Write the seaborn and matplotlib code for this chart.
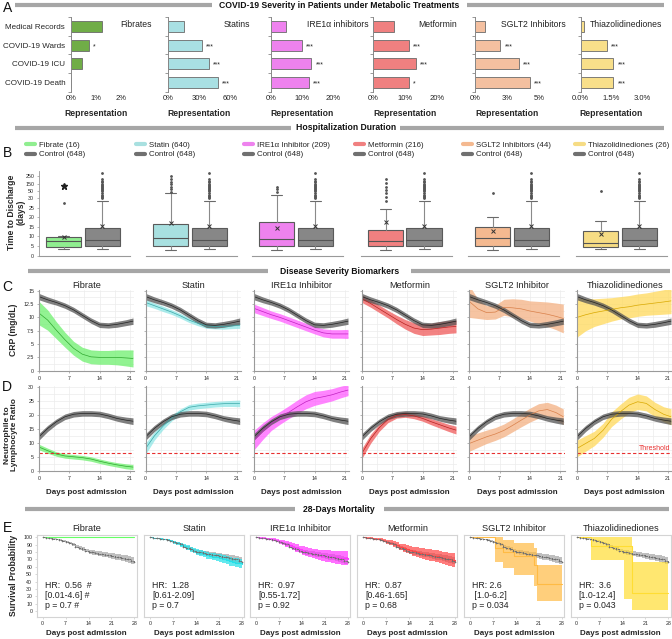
import numpy as np
import matplotlib
matplotlib.use('Agg')
import matplotlib.pyplot as plt
from matplotlib.lines import Line2D
import seaborn as sns
import pandas as pd

# ---------------- DATA ----------------
CATEGORIES = ['Medical Records', 'COVID-19 Wards', 'COVID-19 ICU', 'COVID-19 Death']
A_DRUGS = ['Fibrates', 'Statins', 'IRE1α inhibitors', 'Metformin', 'SGLT2 Inhibitors', 'Thiazolidinediones']
A_FIB = [1.24, 0.74, 0.44, 0.0]
A_STATIN = [15.8, 33.0, 39.4, 48.0]
A_IRE = [4.9, 10.0, 13.1, 12.3]
A_MET = [6.75, 11.25, 13.4, 11.25]
A_SGLT2 = [0.8, 1.98, 3.4, 4.3]
A_TZD = [0.18, 1.27, 1.59, 1.59]
A_STARS = [['', '*', '', ''], ['', '***', '***', '***'], ['', '***', '***', '***'],
           ['', '***', '***', '*'], ['', '***', '***', '***'], ['', '***', '***', '***']]
A_TICKS = [[0, 1, 2], [0, 30, 60], [0, 10, 20], [0, 10, 20], [0, 2.5, 5], [0, 1.5, 3]]
A_TICKLABELS = [['0%', '1%', '2%'], ['0%', '30%', '60%'], ['0%', '10%', '20%'],
                ['0%', '10%', '20%'], ['0%', '3%', '5%'], ['0.0%', '1.5%', '3.0%']]

B_GROUPS = ['Fibrate (16)', 'Statin (640)', 'IRE1α Inhibitor (209)', 'Metformin (216)',
            'SGLT2 Inhibitors (44)', 'Thiazolidinediones (26)']
B_CONTROL_LABEL = 'Control (648)'
B_Q1 = [4.5, 5.2, 5.0, 5.0, 5.0, 4.5]
B_MED = [7.5, 9.4, 8.5, 7.5, 9.0, 6.5]
B_Q3 = [9.5, 16.5, 17.5, 13.5, 14.8, 13.0]
B_WLO = [3.5, 3.0, 3.0, 3.0, 3.0, 3.5]
B_WHI = [10.4, 45.0, 40.0, 24.2, 20.0, 18.2]
B_MEAN = [9.9, 17.2, 14.3, 17.4, 12.9, 11.3]
B_FLIERS = [[27.6], [48, 74, 111, 146, 174, 206, 250], [48, 75, 110],
            [28.5, 34, 43, 64, 111, 165, 206], [45], [54]]
B_FIB_EXTREME = [115]
CTRL_Q1, CTRL_MED, CTRL_Q3, CTRL_WLO, CTRL_WHI, CTRL_MEAN = 5.0, 8.2, 14.3, 3.3, 28.3, 15.6
CTRL_FLIERS = [30, 32, 35, 39, 45, 55, 64, 80, 93, 110, 121, 140, 153, 170, 182, 206, 279]
B_YTICKS = [0, 5, 10, 15, 20, 25, 30, 50, 150, 250]

CD_TITLES = ['Fibrate', 'Statin', 'IRE1α Inhibitor', 'Metformin', 'SGLT2 Inhibitor', 'Thiazolidinediones']
DAYS_CD = [0, 2, 4, 6, 8, 10, 12, 14, 16, 18, 20, 21.7]
CRP_CTRL = [13.9, 13.3, 12.8, 12.2, 11.4, 10.4, 9.4, 8.6, 8.5, 8.7, 9.0, 9.3]
CRP_CTRL_HALF = [0.6, 0.55, 0.5, 0.5, 0.5, 0.5, 0.5, 0.5, 0.5, 0.55, 0.55, 0.6]
CRP_FIB = [10.8, 9.5, 7.6, 5.8, 4.2, 3.1, 2.6, 2.5, 2.5, 2.5, 2.4, 2.3]
CRP_FIB_HALF = [2.2, 1.9, 1.6, 1.4, 1.3, 1.3, 1.3, 1.3, 1.3, 1.4, 1.5, 1.6]
CRP_STATIN = [12.8, 12.2, 11.6, 11.0, 10.3, 9.5, 8.9, 8.4, 8.3, 8.3, 8.4, 8.5]
CRP_STATIN_HALF = [0.6, 0.5, 0.5, 0.45, 0.45, 0.45, 0.45, 0.45, 0.45, 0.5, 0.5, 0.55]
CRP_IRE = [11.7, 11.1, 10.5, 10.0, 9.4, 8.8, 8.2, 7.6, 7.1, 6.9, 6.9, 6.9]
CRP_IRE_HALF = [0.8, 0.75, 0.7, 0.7, 0.7, 0.7, 0.7, 0.7, 0.75, 0.8, 0.8, 0.85]
CRP_MET = [13.5, 12.6, 11.6, 10.6, 9.6, 8.7, 8.0, 7.7, 7.8, 8.0, 8.2, 8.3]
CRP_MET_HALF = [0.7, 0.7, 0.7, 0.7, 0.8, 0.9, 1.0, 1.1, 1.1, 1.2, 1.2, 1.2]
CRP_SGLT2 = [13.0, 11.6, 10.9, 11.0, 11.9, 11.8, 11.6, 11.2, 10.9, 10.6, 10.2, 9.8]
CRP_SGLT2_HALF = [3.0, 1.8, 1.3, 1.3, 1.5, 1.7, 1.8, 1.9, 2.1, 2.3, 2.5, 2.7]
CRP_TZD = [10.0, 10.5, 10.9, 11.2, 11.5, 11.8, 12.0, 12.3, 12.5, 12.7, 12.9, 13.1]
CRP_TZD_HALF = [3.7, 3.0, 2.6, 2.4, 2.2, 2.1, 2.1, 2.1, 2.1, 2.2, 2.3, 2.4]

NLR_CTRL = [12.2, 15.2, 17.6, 19.4, 20.3, 20.6, 20.6, 20.4, 19.7, 18.8, 18.2, 17.8]
NLR_CTRL_HALF = [1.2, 1.1, 1.0, 1.0, 1.0, 1.0, 1.0, 1.0, 1.0, 1.0, 1.1, 1.2]
NLR_FIB = [8.5, 7.2, 6.0, 5.3, 5.0, 4.7, 4.2, 3.4, 2.7, 2.1, 1.6, 1.3]
NLR_FIB_HALF = [1.0, 0.9, 0.8, 0.8, 0.8, 0.8, 0.8, 0.8, 0.8, 0.8, 0.9, 0.9]
NLR_STATIN = [8.0, 12.5, 16.0, 19.0, 21.2, 22.8, 23.3, 23.6, 23.9, 24.1, 24.2, 24.2]
NLR_STATIN_HALF = [2.0, 1.5, 1.2, 1.1, 1.0, 1.0, 1.0, 1.0, 1.0, 1.0, 1.1, 1.2]
NLR_IRE = [11.0, 14.2, 17.0, 19.0, 21.0, 23.0, 24.8, 26.0, 26.6, 27.3, 28.3, 29.0]
NLR_IRE_HALF = [3.5, 3.0, 2.5, 2.3, 2.3, 2.4, 2.5, 2.5, 2.3, 2.2, 2.1, 2.0]
NLR_MET = [6.3, 11.5, 15.5, 18.4, 19.9, 20.2, 19.7, 18.8, 17.6, 16.5, 15.4, 14.6]
NLR_MET_HALF = [1.8, 1.6, 1.3, 1.1, 1.0, 1.0, 1.0, 1.0, 1.1, 1.2, 1.3, 1.4]
NLR_SGLT2 = [9.8, 11.0, 12.2, 13.2, 14.5, 16.3, 18.2, 20.0, 21.5, 22.0, 20.9, 19.4]
NLR_SGLT2_HALF = [2.8, 2.6, 2.4, 2.3, 2.3, 2.3, 2.4, 2.5, 2.6, 2.6, 2.7, 2.8]
NLR_TZD = [8.0, 9.8, 11.6, 14.5, 18.5, 21.2, 23.6, 24.8, 24.2, 22.0, 20.3, 19.4]
NLR_TZD_HALF = [3.0, 2.8, 2.6, 2.5, 2.6, 2.7, 2.8, 2.8, 2.7, 2.6, 2.7, 2.9]
NLR_THRESHOLD = 6.3

KM_DAYS = list(range(29))
KM_CTRL = [100, 99.3, 98.6, 97.9, 97.0, 96.0, 95.0, 93.5, 92.0, 90.5, 87.5, 85.5, 84.0, 82.0, 80.5,
           79.5, 78.5, 77.8, 77.0, 76.2, 75.5, 74.6, 73.8, 73.0, 72.0, 71.0, 70.0, 68.5, 67.0]
KM_CTRL_HALF = [0, 0.3, 0.5, 0.7, 0.9, 1.1, 1.3, 1.5, 1.7, 1.9, 2.1, 2.3, 2.5, 2.6, 2.8,
                2.9, 3.1, 3.2, 3.4, 3.6, 3.8, 4.0, 4.2, 4.4, 4.6, 4.8, 5.0, 5.3, 5.6]
KM_FIB_DAYS = [0, 28]
KM_FIB = [100, 100]
KM_STATIN = [100, 99.4, 98.8, 98.0, 97.0, 96.0, 94.8, 93.3, 91.8, 90.0, 88.0, 86.0, 84.0, 82.0, 80.0,
             78.5, 77.0, 75.5, 74.5, 73.5, 72.8, 72.0, 70.5, 69.0, 67.5, 66.5, 65.5, 64.5, 63.5]
KM_STATIN_HALF = [0, 0.3, 0.6, 0.9, 1.2, 1.5, 1.8, 2.1, 2.4, 2.7, 3.0, 3.2, 3.4, 3.6, 3.8,
                  4.0, 4.2, 4.4, 4.6, 4.8, 5.0, 5.2, 5.4, 5.6, 5.8, 6.0, 6.2, 6.4, 6.6]
KM_IRE = [100, 99.5, 99.0, 98.3, 97.5, 96.5, 95.5, 94.0, 92.5, 91.0, 89.5, 87.5, 85.5, 83.5, 82.0,
          80.5, 79.0, 78.0, 77.0, 76.0, 75.0, 74.5, 74.0, 73.5, 73.0, 72.5, 72.0, 71.5, 71.0]
KM_IRE_HALF = [0, 0.4, 0.8, 1.2, 1.6, 2.0, 2.4, 2.8, 3.2, 3.6, 4.0, 4.4, 4.8, 5.2, 5.6,
               6.0, 6.3, 6.6, 6.9, 7.2, 7.5, 7.8, 8.1, 8.4, 8.7, 9.0, 9.3, 9.6, 9.9]
KM_MET = [100, 99.5, 99.0, 98.3, 97.5, 96.5, 95.5, 94.0, 92.5, 91.0, 89.0, 87.0, 85.5, 84.0, 82.5,
          81.0, 80.0, 79.0, 78.0, 77.0, 76.0, 75.0, 74.0, 73.0, 72.0, 71.0, 70.0, 69.0, 68.0]
KM_MET_HALF = [0, 0.4, 0.8, 1.2, 1.6, 2.0, 2.4, 2.8, 3.2, 3.6, 4.0, 4.4, 4.8, 5.2, 5.6,
               6.0, 6.3, 6.6, 6.9, 7.2, 7.5, 7.8, 8.1, 8.4, 8.7, 9.0, 9.3, 9.6, 9.9]
KM_SGLT2_DAYS = [0, 7.5, 10, 13.5, 19.5, 20.5, 28]
KM_SGLT2 = [100, 86, 80, 75, 62, 37, 37]
KM_SGLT2_LO = [100, 67, 58, 49, 34, 13, 13]
KM_SGLT2_HI = [100, 100, 96, 92, 85, 62, 62]
KM_TZD_DAYS = [0, 4.5, 14.5, 17, 28]
KM_TZD = [100, 88, 88, 24, 24]
KM_TZD_LO = [100, 69, 16, 2, 2]
KM_TZD_HI = [100, 100, 100, 67, 67]
HR_TEXT = ['HR:  0.56  #\n[0.01-4.6] #\np = 0.7 #', 'HR:  1.28\n[0.61-2.09]\np = 0.7',
           'HR:  0.97\n[0.55-1.72]\np = 0.92', 'HR:  0.87\n[0.46-1.65]\np = 0.68',
           'HR: 2.6\n [1.0-6.2]\np = 0.034', 'HR:  3.6\n[1.0-12.4]\np = 0.043']

BAR_COLORS = ['#70ad47', '#a9e0e3', '#ee82ee', '#f08080', '#f4c0a0', '#f8df8a']
BOX_COLORS = ['#90ee90', '#a8e0e0', '#ee82ee', '#f08080', '#f4b990', '#f6dc84']
BAND_COLORS = ['#6ef06e', '#8fe6e6', '#ff5cff', '#f05a5a', '#f4b183', '#ffd95a']
LINE_COLORS = ['#2fa82f', '#3aa8a8', '#c020c0', '#b82020', '#d9804a', '#d9a800']
KM_COLORS = ['#66ff66', '#22e0e8', '#ff33ff', '#ff4444', '#ffbb44', '#ffdd33']

# ---------------- FIGURE ----------------
sns.set_theme(style='white')
plt.rcParams['font.family'] = ['Liberation Sans', 'DejaVu Sans']
W, H = 672, 639
fig = plt.figure(figsize=(W / 100, H / 100), dpi=100)


def px_axes(x, y, w, h):
    return fig.add_axes([x / W, 1 - (y + h) / H, w / W, h / H])


def ftext(x, y, s, **kw):
    return fig.text(x / W, 1 - y / H, s, **kw)


def hbar(x1, x2, y):
    fig.add_artist(Line2D([x1 / W, x2 / W], [1 - y / H, 1 - y / H], color='#a6a6a6', lw=3,
                          transform=fig.transFigure, solid_capstyle='butt'))


def header(text, xt, y, l1, l2):
    ftext(xt, y, text, fontsize=6.2, fontweight='bold', ha='center', va='center', color='#111111')
    hbar(l1[0], l1[1], y)
    hbar(l2[0], l2[1], y)


header('COVID-19 Severity in Patients under Metabolic Treatments', 339, 5, (15, 212), (467, 664))
header('Hospitalization Duration', 346, 128, (15, 291), (400, 664))
header('Disease Severity Biomarkers', 340, 271, (28, 268), (411, 670))
header('28-Days Mortality', 339, 509, (25, 295), (384, 669))

for lab, (x, y) in zip('ABCDE', [(8, 8), (7, 153), (7, 287), (7, 387), (7, 528)]):
    ftext(x, y, lab, fontsize=10, ha='center', va='center', color='#111111')

# ---------------- PANEL A ----------------
A_VALUES = [A_FIB, A_STATIN, A_IRE, A_MET, A_SGLT2, A_TZD]
A_X0 = [70.7, 168, 270.7, 372.7, 475, 580.7]
A_WPX = [50, 62, 62, 64, 64, 61.6]
A_TITLE_RIGHT = [152, 250, 369, 457, 566, 662]
for k in range(6):
    ax = px_axes(A_X0[k], 17.2, A_WPX[k], 74.3)
    df = pd.DataFrame({'cat': CATEGORIES, 'val': A_VALUES[k]})
    sns.barplot(data=df, y='cat', x='val', orient='h', color=BAR_COLORS[k], saturation=1,
                edgecolor='#6a6a6a', linewidth=0.6, width=0.59, ax=ax)
    ax.set_ylim(3.5, -0.5)
    ax.set_xlim(0, A_TICKS[k][-1])
    ax.set_xticks(A_TICKS[k])
    ax.set_xticklabels(A_TICKLABELS[k], fontsize=5.5)
    ax.set_yticks(range(4))
    ax.set_yticklabels(CATEGORIES if k == 0 else [], fontsize=5.8)
    ax.set_yticks([-0.5, 0.5, 1.5, 2.5, 3.5], minor=True)
    ax.tick_params(axis='y', which='major', length=0, pad=4)
    ax.tick_params(axis='y', which='minor', length=2.5, width=0.6, color='#888888', left=True)
    ax.tick_params(axis='x', length=0, pad=2.5)
    for s in ['top', 'right', 'bottom']:
        ax.spines[s].set_visible(False)
    ax.spines['left'].set_color('#888888')
    ax.spines['left'].set_linewidth(0.7)
    ax.set_ylabel('')
    ax.set_xlabel('Representation', fontsize=6.2, fontweight='bold', labelpad=5)
    for i, s in enumerate(A_STARS[k]):
        if s:
            ax.annotate(s, xy=(A_VALUES[k][i], i), xytext=(3, -1), textcoords='offset points',
                        va='center', ha='left', fontsize=5, color='#222222')
    ftext(A_TITLE_RIGHT[k], 24.5, A_DRUGS[k], fontsize=6.2, ha='right', va='center', color='#222222')

# ---------------- PANEL B ----------------
KV = [0, 30, 50, 150, 250, 400]
KP = [0, 57.7, 64.7, 71.7, 80, 92.5]


def fwd(v):
    return np.interp(v, KV, KP)


def inv(p):
    return np.interp(p, KP, KV)


B_X0 = [39, 146, 252, 361, 468, 576]
LEG_X = [26, 136, 244, 355, 463, 575]
for k in range(6):
    ax = px_axes(B_X0[k], 171, 91, 84.7)
    ax.set_yscale('function', functions=(fwd, inv))
    st_t = dict(q1=B_Q1[k], med=B_MED[k], q3=B_Q3[k], whislo=B_WLO[k], whishi=B_WHI[k],
                mean=B_MEAN[k], fliers=np.array(B_FLIERS[k], dtype=float))
    st_c = dict(q1=CTRL_Q1, med=CTRL_MED, q3=CTRL_Q3, whislo=CTRL_WLO, whishi=CTRL_WHI,
                mean=CTRL_MEAN, fliers=np.array(CTRL_FLIERS, dtype=float))
    res = ax.bxp([st_t, st_c], positions=[0, 1], widths=0.92, patch_artist=True, showmeans=True,
                 capwidths=0.28,
                 boxprops=dict(edgecolor='#5a5a5a', linewidth=0.8),
                 medianprops=dict(color='#555555', linewidth=0.8),
                 whiskerprops=dict(color='#8a8a8a', linewidth=0.8),
                 capprops=dict(color='#6a6a6a', linewidth=0.8),
                 meanprops=dict(marker='x', markersize=3, markeredgecolor='#333333', markeredgewidth=0.7),
                 flierprops=dict(marker='.', markersize=2.0, markeredgecolor='#555555',
                                 markerfacecolor='#555555', linestyle='none'))
    res['boxes'][0].set_facecolor(BOX_COLORS[k])
    res['boxes'][1].set_facecolor('#878787')
    if k == 0:
        ax.plot([0] * len(B_FIB_EXTREME), B_FIB_EXTREME, marker='*', markersize=5, color='#222222',
                linestyle='none')
    ax.set_xlim(-0.64, 1.72)
    ax.set_ylim(0, 307)
    ax.set_xticks([])
    for s in ['top', 'right']:
        ax.spines[s].set_visible(False)
    ax.spines['bottom'].set_color('#999999')
    ax.spines['bottom'].set_linewidth(0.8)
    if k == 0:
        ax.set_yticks(B_YTICKS)
        ax.set_yticklabels([str(t) for t in B_YTICKS], fontsize=3.8)
        ax.yaxis.set_minor_locator(matplotlib.ticker.NullLocator())
        ax.tick_params(axis='y', length=1.5, width=0.5, color='#999999', pad=2, left=True)
        ax.spines['left'].set_color('#999999')
        ax.spines['left'].set_linewidth(0.6)
    else:
        ax.set_yticks([])
        ax.yaxis.set_minor_locator(matplotlib.ticker.NullLocator())
        ax.spines['left'].set_visible(False)
    handles = [Line2D([0], [0], color=BOX_COLORS[k], lw=3), Line2D([0], [0], color='#707070', lw=3)]
    ax.legend(handles, [B_GROUPS[k], B_CONTROL_LABEL], loc='upper left',
              bbox_to_anchor=(LEG_X[k] / W, 1 - 141 / H), bbox_transform=fig.transFigure,
              frameon=False, fontsize=5.7, handlelength=1.15, handletextpad=0.5,
              labelspacing=0.3, borderpad=0, borderaxespad=0)
ftext(16, 212, 'Time to Discharge\n(days)', rotation=90, fontsize=6.2, fontweight='bold',
      ha='center', va='center', multialignment='center', linespacing=1.1)

# ---------------- PANELS C & D ----------------
CRP_T = [CRP_FIB, CRP_STATIN, CRP_IRE, CRP_MET, CRP_SGLT2, CRP_TZD]
CRP_TH = [CRP_FIB_HALF, CRP_STATIN_HALF, CRP_IRE_HALF, CRP_MET_HALF, CRP_SGLT2_HALF, CRP_TZD_HALF]
NLR_T = [NLR_FIB, NLR_STATIN, NLR_IRE, NLR_MET, NLR_SGLT2, NLR_TZD]
NLR_TH = [NLR_FIB_HALF, NLR_STATIN_HALF, NLR_IRE_HALF, NLR_MET_HALF, NLR_SGLT2_HALF, NLR_TZD_HALF]
CD_X0 = [39, 145.7, 254, 362, 469.3, 577]
days = np.array(DAYS_CD)


def style_cd(ax, yt, ytl, show_y):
    ax.set_xlim(0, 22)
    ax.set_xticks([0, 7, 14, 21])
    ax.set_xticklabels(['0', '7', '14', '21'], fontsize=3.8)
    ax.set_xticks([3.5, 10.5, 17.5], minor=True)
    ax.set_yticks(yt)
    ax.set_yticklabels(ytl if show_y else [], fontsize=3.8)
    ax.grid(True, which='both', color='#ececec', linewidth=0.5)
    ax.tick_params(axis='both', which='major', length=1.5, width=0.5, color='#999999', pad=2,
                   left=True, bottom=True)
    ax.tick_params(axis='both', which='minor', length=0)
    for s in ['top', 'right']:
        ax.spines[s].set_visible(False)
    for s in ['left', 'bottom']:
        ax.spines[s].set_color('#9a9a9a')
        ax.spines[s].set_linewidth(0.8)
    ax.set_axisbelow(True)


for k in range(6):
    # C: CRP
    ax = px_axes(CD_X0[k], 289.7, 95.3, 81)
    ctrl = np.array(CRP_CTRL); ch = np.array(CRP_CTRL_HALF)
    t = np.array(CRP_T[k]); th = np.array(CRP_TH[k])
    ax.fill_between(days, t - th, t + th, color=BAND_COLORS[k], alpha=0.75, linewidth=0)
    sns.lineplot(x=days, y=t, color=LINE_COLORS[k], linewidth=0.5, ax=ax)
    ax.fill_between(days, ctrl - ch, ctrl + ch, color='#555555', alpha=0.75, linewidth=0)
    sns.lineplot(x=days, y=ctrl, color='#222222', linewidth=0.5, ax=ax)
    ax.set_ylim(0, 15.2)
    style_cd(ax, [0, 2.5, 5, 7.5, 10, 12.5, 15], ['0', '2.5', '5', '7.5', '10', '12.5', '15'], k == 0)
    ax.set_yticks([1.25, 3.75, 6.25, 8.75, 11.25, 13.75], minor=True)
    ax.set_title(CD_TITLES[k], fontsize=6.6, pad=1.5, color='#222222')
    # D: NLR
    ax = px_axes(CD_X0[k], 385.9, 95.3, 84.8)
    ctrl = np.array(NLR_CTRL); ch = np.array(NLR_CTRL_HALF)
    t = np.array(NLR_T[k]); th = np.array(NLR_TH[k])
    ax.fill_between(days, t - th, t + th, color=BAND_COLORS[k], alpha=0.75, linewidth=0)
    sns.lineplot(x=days, y=t, color=LINE_COLORS[k], linewidth=0.5, ax=ax)
    ax.fill_between(days, ctrl - ch, ctrl + ch, color='#555555', alpha=0.75, linewidth=0)
    sns.lineplot(x=days, y=ctrl, color='#222222', linewidth=0.5, ax=ax)
    ax.axhline(NLR_THRESHOLD, color='#e83030', linestyle=(0, (3, 2)), linewidth=0.8)
    ax.set_ylim(0, 30.5)
    style_cd(ax, [0, 5, 10, 15, 20, 25, 30], ['0', '5', '10', '15', '20', '25', '30'], k == 0)
    ax.set_yticks([2.5, 7.5, 12.5, 17.5, 22.5, 27.5], minor=True)
    ax.set_xlabel('Days post admission', fontsize=5.8, fontweight='bold', labelpad=6)
    if k == 5:
        ax.text(21.5, NLR_THRESHOLD + 0.6, 'Threshold', color='#e83030', fontsize=5, ha='right',
                va='bottom')

ftext(14, 330, 'CRP (mg/dL)', rotation=90, fontsize=6.2, fontweight='bold', ha='center', va='center')
ftext(11, 435, 'Neutrophile to\nLymphocyte Ratio', rotation=90, fontsize=6.0, fontweight='bold',
      ha='center', va='center', multialignment='center', linespacing=1.1)

# ---------------- PANEL E ----------------
E_X0 = [36.7, 144.3, 250, 357.3, 464.3, 570.7]
kmd = np.array(KM_DAYS)
ctrl = np.array(KM_CTRL); ch = np.array(KM_CTRL_HALF)
TREAT = [
    (KM_FIB_DAYS, KM_FIB, KM_FIB, KM_FIB),
    (KM_DAYS, KM_STATIN, list(np.array(KM_STATIN) - np.array(KM_STATIN_HALF)),
     list(np.array(KM_STATIN) + np.array(KM_STATIN_HALF))),
    (KM_DAYS, KM_IRE, list(np.array(KM_IRE) - np.array(KM_IRE_HALF)),
     list(np.array(KM_IRE) + np.array(KM_IRE_HALF))),
    (KM_DAYS, KM_MET, list(np.array(KM_MET) - np.array(KM_MET_HALF)),
     list(np.array(KM_MET) + np.array(KM_MET_HALF))),
    (KM_SGLT2_DAYS, KM_SGLT2, KM_SGLT2_LO, KM_SGLT2_HI),
    (KM_TZD_DAYS, KM_TZD, KM_TZD_LO, KM_TZD_HI),
]
for k in range(6):
    ax = px_axes(E_X0[k], 535, 100, 81.7)
    d, s, lo, hi = TREAT[k]
    ax.fill_between(kmd, ctrl - ch, np.minimum(ctrl + ch, 100), step='post', color='#b0b0b0',
                    alpha=0.8, linewidth=0)
    ax.fill_between(d, lo, np.minimum(hi, 100), step='post', color=KM_COLORS[k], alpha=0.7, linewidth=0)
    ax.step(d, s, where='post', color=KM_COLORS[k], linewidth=0.8)
    ax.step(kmd, ctrl, where='post', color='#707070', linewidth=0.7, linestyle=(0, (2, 1)),
            marker='+', markersize=2, markeredgewidth=0.4)
    ax.set_xlim(-1.8, 28.7)
    ax.set_ylim(-7.7, 103.1)
    ax.set_xticks([0, 7, 14, 21, 28])
    ax.set_xticklabels(['0', '7', '14', '21', '28'], fontsize=3.8)
    if k == 0:
        ax.set_yticks(range(0, 101, 10))
        ax.set_yticklabels([str(v) for v in range(0, 101, 10)], fontsize=3.8)
    else:
        ax.set_yticks([])
    ax.tick_params(axis='both', length=1.2, width=0.4, color='#bbbbbb', pad=2, left=(k == 0), bottom=True)
    for sp in ax.spines.values():
        sp.set_color('#d4d4d4')
        sp.set_linewidth(0.8)
    ax.set_title(CD_TITLES[k], fontsize=6.6, pad=3, color='#222222')
    ax.set_xlabel('Days post admission', fontsize=5.8, fontweight='bold', labelpad=3)
    ax.text(0.08, 0.44, HR_TEXT[k], transform=ax.transAxes, fontsize=6.3, va='top', ha='left',
            linespacing=1.15, color='#222222')

ftext(14, 575, 'Survival Probability', rotation=90, fontsize=6.2, fontweight='bold',
      ha='center', va='center')

fig.savefig('out.png', dpi=100)
